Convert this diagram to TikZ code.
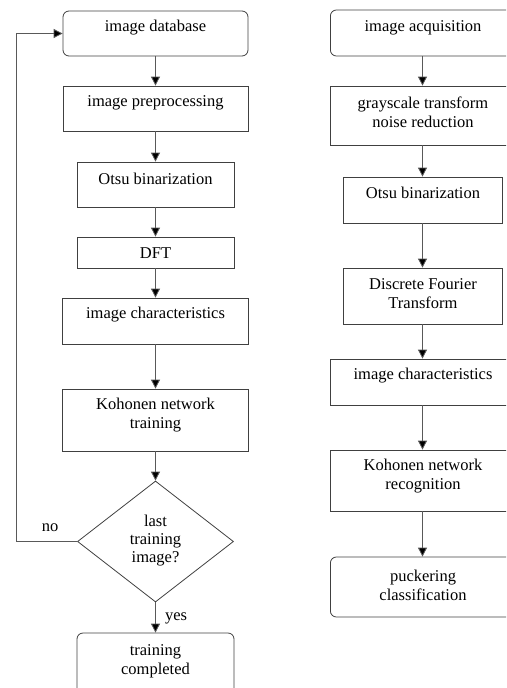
\documentclass[tikz,border=0pt]{standalone}
\usepackage{fontspec}
\setmainfont{Liberation Serif}
\usetikzlibrary{shapes.geometric,arrows.meta}
\begin{document}
\begin{tikzpicture}[x=1pt,y=-1pt,
 box/.style={draw=black!75, line width=0.8pt, inner sep=0pt},
 rbox/.style={box, rounded corners=6pt},
 txt/.style={font=\fontsize{16.5}{19}\selectfont, align=center, inner sep=0pt, text=black},
 arr/.style={draw=black!65, line width=0.8pt, -{Triangle[width=9pt,length=9pt,fill=black]}}]
\useasboundingbox (0,0) rectangle (506,688);
\begin{scope}
\clip (0,0) rectangle (506,688);
% left column
\node[rbox, minimum width=185pt, minimum height=45pt] (db) at (155.5,33.5) {};
\node[box, minimum width=185pt, minimum height=45pt] (prep) at (155.5,108.5) {};
\node[box, minimum width=157pt, minimum height=45pt] (otsu) at (155.5,184.5) {};
\node[box, minimum width=157pt, minimum height=31pt] (dft) at (155.5,252.5) {};
\node[box, minimum width=186pt, minimum height=46pt] (chr) at (155.5,321) {};
\node[box, minimum width=186pt, minimum height=62pt] (koh) at (155.5,420) {};
\node[draw=black!75, line width=0.8pt, diamond, inner sep=0pt, minimum width=156pt, minimum height=121pt] (dec) at (155.5,541.5) {};
\node[rbox, minimum width=157pt, minimum height=62pt] (done) at (155.5,664) {};
\node[txt] (tdb) at (155.5,28) {image database};
\node[txt] (tprep) at (155.5,103) {image preprocessing};
\node[txt] (totsu) at (155.5,178.5) {Otsu binarization};
\node[txt] (tdft) at (155.5,253) {DFT};
\node[txt] (tchr) at (155.5,315) {image characteristics};
\node[txt] (tkoh) at (155.5,415.5) {Kohonen network\\training};
\node[txt, font=\fontsize{16.5}{18}\selectfont] (tdec) at (155.5,540.5) {last\\training\\image?};
\node[txt] (tdone) at (155.5,661) {training\\completed};
\node[txt] (no) at (50,528) {no};
\node[txt] (yes) at (176,618) {yes};
\coordinate (c1) at (16,541.5);
\coordinate (c2) at (16,33.5);
\draw[arr] (db.south) -- (prep.north);
\draw[arr] (prep.south) -- (otsu.north);
\draw[arr] (otsu.south) -- (dft.north);
\draw[arr] (dft.south) -- (chr.north);
\draw[arr] (chr.south) -- (koh.north);
\draw[arr] (koh.south) -- (dec.north);
\draw[arr] (dec.south) -- (done.north);
\draw[arr] (dec.west) -- (c1) -- (c2) -- (db.west);
% right column
\node[rbox, minimum width=200pt, minimum height=46pt, anchor=west] (acq) at (330,33) {};
\node[box, minimum width=200pt, minimum height=59pt, anchor=west] (gray) at (330,115.5) {};
\node[box, minimum width=159pt, minimum height=46pt] (otsuR) at (422.5,200) {};
\node[box, minimum width=159pt, minimum height=56pt] (dftR) at (422.5,296) {};
\node[box, minimum width=200pt, minimum height=46pt, anchor=west] (chrR) at (330,382) {};
\node[box, minimum width=200pt, minimum height=61pt, anchor=west] (kohR) at (330,480.5) {};
\node[rbox, minimum width=200pt, minimum height=60pt, anchor=west] (puck) at (330,587) {};
\node[txt] (tacq) at (423,28) {image acquisition};
\node[txt] (tgray) at (423,112.5) {grayscale transform\\noise reduction};
\node[txt] (totsuR) at (423,193) {Otsu binarization};
\node[txt] (tdftR) at (423,294) {Discrete Fourier\\Transform};
\node[txt] (tchrR) at (423,376) {image characteristics};
\node[txt] (tkohR) at (423,476.5) {Kohonen network\\recognition};
\node[txt] (tpuck) at (423,585.5) {puckering\\classification};
\draw[arr] (otsuR.north |- acq.south) -- (otsuR.north |- gray.north);
\draw[arr] (otsuR.north |- gray.south) -- (otsuR.north);
\draw[arr] (otsuR.south) -- (dftR.north);
\draw[arr] (dftR.south) -- (dftR.south |- chrR.north);
\draw[arr] (dftR.south |- chrR.south) -- (dftR.south |- kohR.north);
\draw[arr] (dftR.south |- kohR.south) -- (dftR.south |- puck.north);
\end{scope}
\end{tikzpicture}
\end{document}
